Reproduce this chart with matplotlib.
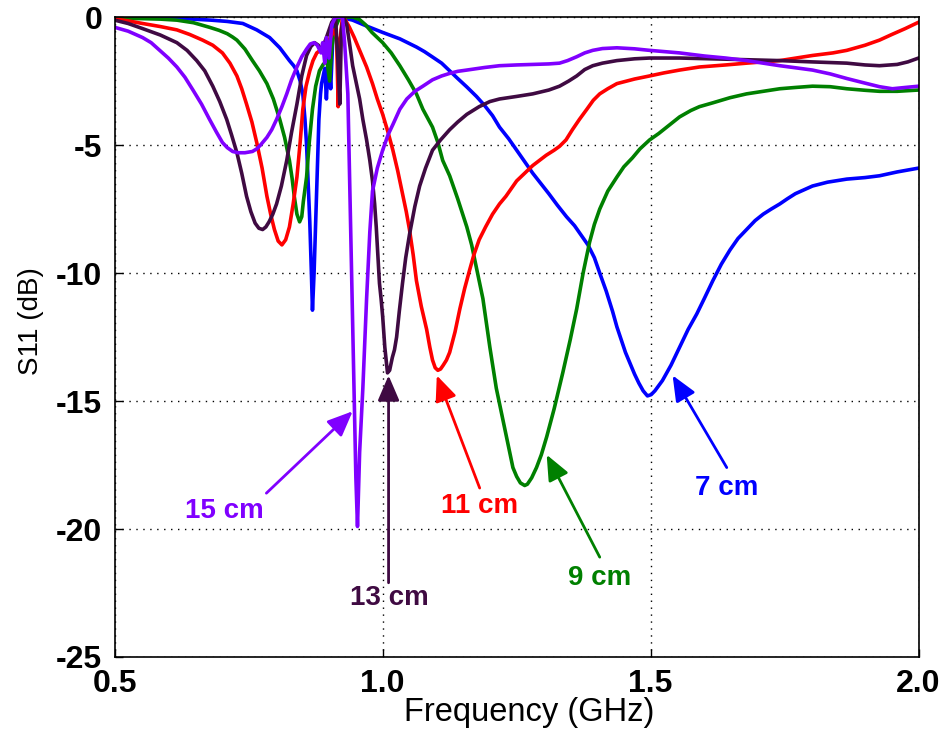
import numpy as np
import matplotlib.pyplot as plt

plt.rcParams['font.family'] = ['Liberation Sans', 'DejaVu Sans']

# S11 curves, (frequency GHz, dB)
f_7cm = [0.50, 0.56, 0.62, 0.68, 0.71, 0.739, 0.765, 0.789, 0.808, 0.826, 0.834, 0.840,
         0.846, 0.851, 0.855, 0.858, 0.861, 0.864, 0.867, 0.869, 0.872, 0.875, 0.878, 0.881,
         0.884, 0.886, 0.888, 0.892, 0.895, 0.899, 0.903, 0.907, 0.912, 0.92, 0.944, 0.97,
         1.0, 1.032, 1.063, 1.078, 1.093, 1.11, 1.125, 1.14, 1.157, 1.175, 1.19, 1.205,
         1.218, 1.235, 1.25, 1.265, 1.28, 1.295, 1.31, 1.326, 1.343, 1.358, 1.373, 1.383,
         1.395, 1.405, 1.417, 1.429, 1.437, 1.445, 1.453, 1.461, 1.47, 1.478, 1.486, 1.494,
         1.501, 1.508, 1.515, 1.522, 1.53, 1.538, 1.546, 1.554, 1.562, 1.57, 1.578, 1.586,
         1.60, 1.616, 1.632, 1.648, 1.663, 1.679, 1.695, 1.71, 1.725, 1.741, 1.755, 1.77,
         1.786, 1.802, 1.83, 1.866, 1.90, 1.927, 1.96, 2.0]
s_7cm = [-0.05, 0.0, -0.05, -0.12, -0.17, -0.25, -0.5, -0.8, -1.2, -1.7, -1.9, -2.1,
         -2.5, -3.0, -4.0, -5.0, -6.5, -8.0, -10.0, -11.45, -10.0, -8.0, -6.0, -4.0,
         -3.0, -2.6, -2.4, -2.0, -3.2, -1.5, -2.8, -0.8, -0.2, 0.0, -0.12, -0.35,
         -0.6, -0.85, -1.17, -1.35, -1.56, -1.8, -2.1, -2.4, -2.73, -3.1, -3.45, -3.85,
         -4.3, -4.75, -5.2, -5.65, -6.1, -6.5, -6.9, -7.35, -7.8, -8.15, -8.6, -8.9,
         -9.4, -10.0, -10.7, -11.5, -12.1, -12.6, -13.1, -13.5, -13.95, -14.3, -14.6, -14.8,
         -14.75, -14.6, -14.4, -14.2, -13.9, -13.6, -13.25, -12.9, -12.55, -12.2, -11.9, -11.6,
         -11.0, -10.3, -9.65, -9.1, -8.65, -8.3, -7.95, -7.7, -7.5, -7.3, -7.1, -6.9,
         -6.75, -6.6, -6.45, -6.33, -6.27, -6.2, -6.05, -5.9]

f_9cm = [0.50, 0.55, 0.585, 0.616, 0.647, 0.677, 0.695, 0.71, 0.72, 0.728, 0.743, 0.757,
         0.77, 0.784, 0.796, 0.808, 0.817, 0.826, 0.831, 0.835, 0.84, 0.845, 0.849, 0.852,
         0.858, 0.863, 0.869, 0.875, 0.882, 0.889, 0.896, 0.901, 0.905, 0.91, 0.92, 0.944,
         0.957, 0.968, 0.98, 0.99, 1.0, 1.016, 1.032, 1.048, 1.063, 1.075, 1.093, 1.103,
         1.112, 1.125, 1.14, 1.157, 1.166, 1.175, 1.187, 1.20, 1.212, 1.224, 1.234, 1.243,
         1.25, 1.257, 1.265, 1.27, 1.278, 1.287, 1.296, 1.306, 1.32, 1.336, 1.35, 1.362,
         1.374, 1.386, 1.395, 1.405, 1.42, 1.437, 1.45, 1.466, 1.48, 1.498, 1.515, 1.530,
         1.554, 1.575, 1.591, 1.616, 1.648, 1.679, 1.71, 1.741, 1.77, 1.802, 1.835, 1.866,
         1.90, 1.927, 1.96, 2.0]
s_9cm = [-0.05, -0.06, -0.08, -0.12, -0.22, -0.4, -0.52, -0.65, -0.78, -0.9, -1.25, -1.7,
         -2.1, -2.6, -3.2, -4.0, -4.7, -5.6, -6.3, -7.0, -7.7, -8.0, -7.8, -7.2,
         -6.25, -4.9, -3.6, -2.7, -2.1, -1.85, -1.7, -2.5, -1.2, -0.5, 0.0, 0.0,
         -0.1, -0.3, -0.6, -0.8, -1.0, -1.4, -1.9, -2.45, -3.0, -3.6, -4.3, -4.9,
         -5.6, -6.2, -7.1, -8.2, -8.9, -9.8, -11.0, -12.9, -14.5, -15.7, -16.7, -17.6,
         -17.95, -18.2, -18.3, -18.25, -18.0, -17.6, -17.1, -16.4, -15.3, -13.9, -12.6, -11.4,
         -10.0, -8.8, -8.1, -7.5, -6.8, -6.25, -5.85, -5.5, -5.15, -4.8, -4.55, -4.3,
         -3.9, -3.65, -3.5, -3.35, -3.15, -3.0, -2.9, -2.8, -2.75, -2.7, -2.72, -2.8,
         -2.86, -2.9, -2.9, -2.85]

f_11cm = [0.50, 0.525, 0.552, 0.585, 0.616, 0.64, 0.664, 0.683, 0.701, 0.715, 0.728, 0.737,
          0.746, 0.756, 0.765, 0.775, 0.784, 0.791, 0.798, 0.805, 0.812, 0.819, 0.826, 0.833,
          0.84, 0.846, 0.851, 0.857, 0.864, 0.87, 0.877, 0.89, 0.90, 0.91, 0.914, 0.917,
          0.92, 0.925, 0.93, 0.938, 0.947, 0.957, 0.97, 0.981, 0.99, 1.0, 1.01, 1.019,
          1.028, 1.037, 1.044, 1.05, 1.057, 1.063, 1.072, 1.082, 1.088, 1.093, 1.098, 1.103,
          1.108, 1.113, 1.119, 1.125, 1.135, 1.144, 1.153, 1.162, 1.17, 1.18, 1.192, 1.205,
          1.218, 1.23, 1.25, 1.265, 1.28, 1.305, 1.32, 1.330, 1.342, 1.354, 1.367, 1.381,
          1.393, 1.405, 1.42, 1.437, 1.47, 1.498, 1.525, 1.554, 1.591, 1.64, 1.679, 1.741,
          1.802, 1.84, 1.866, 1.90, 1.927, 1.95, 1.975, 2.0]
s_11cm = [-0.07, -0.15, -0.25, -0.37, -0.5, -0.68, -0.9, -1.1, -1.4, -1.8, -2.3, -2.8,
          -3.4, -4.1, -4.9, -5.9, -7.0, -7.7, -8.3, -8.75, -8.9, -8.7, -8.2, -7.3,
          -6.25, -4.9, -3.6, -2.7, -2.1, -1.7, -1.4, -1.2, -0.9, -0.5, -0.8, -3.5,
          -1.0, 0.0, -0.1, -0.4, -0.8, -1.3, -1.95, -2.6, -3.2, -3.8, -4.5, -5.2,
          -6.0, -6.9, -7.6, -8.3, -9.3, -10.3, -11.3, -12.2, -12.9, -13.4, -13.7, -13.8,
          -13.75, -13.6, -13.4, -13.1, -12.3, -11.4, -10.6, -9.9, -9.3, -8.7, -8.2, -7.7,
          -7.3, -7.0, -6.4, -6.1, -5.8, -5.4, -5.2, -5.05, -4.8, -4.4, -4.0, -3.6,
          -3.25, -3.0, -2.8, -2.6, -2.42, -2.3, -2.18, -2.07, -1.95, -1.87, -1.8, -1.7,
          -1.5, -1.4, -1.3, -1.1, -0.9, -0.68, -0.45, -0.2]

f_13cm = [0.50, 0.525, 0.552, 0.585, 0.616, 0.635, 0.653, 0.668, 0.683, 0.696, 0.709, 0.718,
          0.728, 0.737, 0.746, 0.754, 0.762, 0.769, 0.776, 0.782, 0.788, 0.795, 0.802, 0.811,
          0.821, 0.83, 0.84, 0.849, 0.858, 0.866, 0.873, 0.88, 0.886, 0.895, 0.905, 0.912,
          0.916, 0.92, 0.923, 0.927, 0.933, 0.938, 0.944, 0.95, 0.957, 0.963, 0.970, 0.976,
          0.981, 0.985, 0.988, 0.991, 0.994, 0.997, 1.0, 1.004, 1.009, 1.013, 1.018, 1.022,
          1.026, 1.031, 1.037, 1.043, 1.05, 1.06, 1.069, 1.08, 1.093, 1.108, 1.125, 1.14,
          1.157, 1.18, 1.20, 1.218, 1.25, 1.280, 1.31, 1.33, 1.347, 1.362, 1.377, 1.392,
          1.41, 1.437, 1.47, 1.498, 1.554, 1.65, 1.741, 1.80, 1.866, 1.90, 1.927, 1.96,
          1.98, 2.0]
s_13cm = [-0.12, -0.25, -0.45, -0.7, -1.0, -1.3, -1.7, -2.1, -2.7, -3.3, -4.0, -4.6,
          -5.3, -6.1, -7.0, -7.6, -8.05, -8.25, -8.3, -8.2, -8.0, -7.7, -7.3, -6.6,
          -5.6, -4.5, -3.4, -2.3, -1.5, -1.15, -1.0, -1.1, -1.3, -0.8, -0.2, 0.0,
          -1.5, -3.4, -0.5, 0.0, -0.3, -1.0, -1.9, -2.5, -3.2, -4.0, -4.8, -5.6,
          -6.4, -7.3, -8.2, -9.3, -10.4, -11.0, -11.7, -12.9, -13.9, -13.8, -13.3, -13.0,
          -12.5, -11.5, -10.4, -9.4, -8.5, -7.4, -6.6, -5.9, -5.2, -4.8, -4.4, -4.1,
          -3.8, -3.5, -3.3, -3.2, -3.1, -3.0, -2.85, -2.7, -2.5, -2.3, -2.05, -1.9,
          -1.8, -1.7, -1.63, -1.6, -1.6, -1.65, -1.7, -1.75, -1.8, -1.87, -1.9, -1.85,
          -1.75, -1.6]

f_15cm = [0.50, 0.525, 0.552, 0.568, 0.584, 0.60, 0.616, 0.631, 0.646, 0.662, 0.677, 0.69,
          0.701, 0.71, 0.72, 0.73, 0.743, 0.757, 0.765, 0.772, 0.784, 0.793, 0.802, 0.812,
          0.821, 0.83, 0.84, 0.849, 0.858, 0.865, 0.872, 0.878, 0.885, 0.888, 0.892, 0.895,
          0.90, 0.905, 0.912, 0.925, 0.929, 0.935, 0.938, 0.944, 0.950, 0.953, 0.957, 0.963,
          0.970, 0.976, 0.981, 0.99, 1.0, 1.01, 1.019, 1.032, 1.045, 1.06, 1.075, 1.093,
          1.11, 1.125, 1.14, 1.157, 1.19, 1.218, 1.25, 1.28, 1.31, 1.33, 1.345, 1.362,
          1.377, 1.392, 1.41, 1.437, 1.47, 1.498, 1.554, 1.60, 1.64, 1.679, 1.71, 1.741,
          1.77, 1.802, 1.835, 1.866, 1.90, 1.927, 1.951, 1.975, 2.0]
s_15cm = [-0.4, -0.55, -0.8, -1.0, -1.3, -1.6, -1.95, -2.35, -2.85, -3.4, -4.0, -4.5,
          -4.9, -5.1, -5.25, -5.3, -5.3, -5.25, -5.15, -5.0, -4.7, -4.4, -4.0, -3.5,
          -3.0, -2.45, -1.95, -1.55, -1.25, -1.05, -1.0, -1.1, -1.4, -1.0, -1.8, -0.8,
          -1.6, -0.3, 0.0, 0.0, -1.0, -3.0, -6.0, -12.0, -18.0, -19.9, -17.0, -14.5,
          -11.0, -8.4, -6.8, -5.9, -5.2, -4.6, -4.2, -3.6, -3.2, -2.9, -2.7, -2.45,
          -2.3, -2.2, -2.12, -2.07, -1.97, -1.9, -1.87, -1.85, -1.83, -1.8, -1.7, -1.55,
          -1.4, -1.3, -1.23, -1.2, -1.24, -1.3, -1.4, -1.52, -1.6, -1.7, -1.8, -1.9,
          -1.98, -2.07, -2.22, -2.4, -2.58, -2.72, -2.8, -2.75, -2.7]

labels = ['7 cm', '9 cm', '11 cm', '13 cm', '15 cm']
colors = ['#0000ff', '#008000', '#ff0000', '#3f0a42', '#8000ff']
freqs = [f_7cm, f_9cm, f_11cm, f_13cm, f_15cm]
s11s = [s_7cm, s_9cm, s_11cm, s_13cm, s_15cm]

# annotation: text position, arrow tail, arrow tip
text_pos = [(1.642, -18.4), (1.405, -21.9), (1.181, -19.1), (1.013, -22.7), (0.705, -19.3)]
arrow_tail = [(1.642, -17.6), (1.405, -21.1), (1.181, -18.4), (1.011, -22.1), (0.783, -18.6)]
arrow_tip = [(1.541, -14.0), (1.306, -17.1), (1.101, -14.0), (1.011, -14.0), (0.944, -15.4)]

fig = plt.figure(figsize=(9.48, 7.33), dpi=100)
ax = fig.add_axes([0.121, 0.1037, 0.848, 0.873])

for f, s, c in zip(freqs, s11s, colors):
    ax.plot(f, s, color=c, lw=2.6, solid_joinstyle='round')

for lab, c, tp, tl, th in zip(labels, colors, text_pos, arrow_tail, arrow_tip):
    ax.annotate('', xy=th, xytext=tl,
                arrowprops=dict(arrowstyle='-|>,head_length=0.7,head_width=0.3',
                                color=c, lw=2, shrinkA=0, shrinkB=0,
                                mutation_scale=22))
    ax.text(tp[0], tp[1], lab, color=c, fontsize=20, fontweight='bold',
            ha='center', va='center')

ax.set_xlim(0.5, 2.0)
ax.set_ylim(-25, 0)
ax.set_xticks([0.5, 1.0, 1.5, 2.0])
ax.set_xticklabels(['0.5', '1.0', '1.5', '2.0'], fontweight='bold')
ax.set_yticks([0, -5, -10, -15, -20, -25])
ax.set_yticklabels(['0', '-5', '-10', '-15', '-20', '-25'], fontweight='bold')
ax.tick_params(direction='in', length=6, width=1, labelsize=23, pad=9)
ax.grid(True, color='k', linestyle=(0, (1, 4)), lw=1)
ax.set_axisbelow(True)
for sp in ax.spines.values():
    sp.set_linewidth(1.2)

ax.set_xlabel('Frequency (GHz)', fontsize=23.5)
ax.set_ylabel('S11 (dB)', fontsize=20)
ax.xaxis.set_label_coords(0.516, -0.062)
ax.yaxis.set_label_coords(-0.088, 0.525)

fig.savefig('out.png', dpi=100)
